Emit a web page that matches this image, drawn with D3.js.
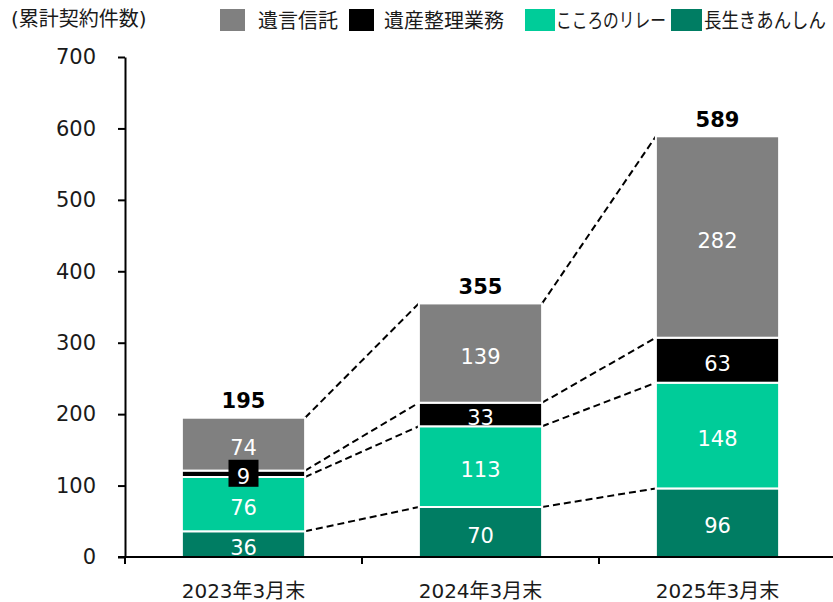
<!DOCTYPE html>
<html>
<head>
<meta charset="utf-8">
<script src="https://cdn.jsdelivr.net/npm/d3@7"></script>
<style>
  html, body { margin: 0; padding: 0; background: #fff; }
  svg { display: block; }
  text { font-family: "DejaVu Sans", "Noto Sans CJK JP", sans-serif; }
</style>
</head>
<body>
<svg id="chart" width="833" height="602"></svg>
<script>
// ---- data ----
const categories = ["2023年3月末", "2024年3月末", "2025年3月末"];
const seriesNames = ["長生きあんしん", "こころのリレー", "遺産整理業務", "遺言信託"];
const seriesColors = ["#007d63", "#00cc99", "#000000", "#808080"];
const nagaiki = [36, 70, 96];
const kokoro = [76, 113, 148];
const isan = [9, 33, 63];
const yuigon = [74, 139, 282];
const totals = [195, 355, 589];
const yTicks = [0, 100, 200, 300, 400, 500, 600, 700];
const unitLabel = "(累計契約件数)";
const legendOrder = ["遺言信託", "遺産整理業務", "こころのリレー", "長生きあんしん"];

const seriesValues = [nagaiki, kokoro, isan, yuigon];

// ---- layout ----
const svg = d3.select("#chart");
const plotLeft = 125, plotRight = 836, plotTop = 57, plotBottom = 557;

const x = d3.scaleBand().domain(categories).range([plotLeft, plotRight]).padding(0);
const y = d3.scaleLinear().domain([0, 700]).range([plotBottom, plotTop]);
const barW = x.bandwidth() * 0.52;
const barX = c => x(c) + (x.bandwidth() - barW) / 2;

// stacked data
const rows = categories.map((c, i) => {
  const o = { cat: c };
  seriesNames.forEach((s, k) => { o[s] = seriesValues[k][i]; });
  return o;
});
const stack = d3.stack().keys(seriesNames)(rows);

// connectors (dashed) between cumulative boundaries
const connG = svg.append("g");
stack.forEach(layer => {
  for (let i = 0; i < categories.length - 1; i++) {
    connG.append("line")
      .attr("x1", barX(categories[i]) + barW)
      .attr("y1", y(layer[i][1]))
      .attr("x2", barX(categories[i + 1]))
      .attr("y2", y(layer[i + 1][1]))
      .attr("stroke", "#000")
      .attr("stroke-width", 2)
      .attr("stroke-dasharray", "7,4");
  }
});

// bars
const barG = svg.append("g");
stack.forEach((layer, k) => {
  barG.selectAll(null).data(layer).enter().append("rect")
    .attr("x", d => barX(d.data.cat))
    .attr("y", d => y(d[1]))
    .attr("width", barW)
    .attr("height", d => y(d[0]) - y(d[1]))
    .attr("fill", seriesColors[k])
    .attr("stroke", "#fff")
    .attr("stroke-width", 2);
});

// segment labels
const labG = svg.append("g");
stack.forEach((layer, k) => {
  layer.forEach(d => {
    const cx = barX(d.data.cat) + barW / 2;
    const mid = (y(d[0]) + y(d[1])) / 2;
    const h = y(d[0]) - y(d[1]);
    const base = mid + 10.5;
    if (h < 20) {
      labG.append("rect")
        .attr("x", cx - 15).attr("y", base - 24.5)
        .attr("width", 30).attr("height", 27)
        .attr("fill", seriesColors[k]);
    }
    labG.append("text")
      .attr("x", cx).attr("y", base)
      .attr("text-anchor", "middle")
      .attr("font-size", 21)
      .attr("fill", "#fff")
      .text(d.data[seriesNames[k]]);
  });
});

// totals
svg.append("g").selectAll("text").data(categories).enter().append("text")
  .attr("x", c => barX(c) + barW / 2)
  .attr("y", (c, i) => y(totals[i]) - 9.5)
  .attr("text-anchor", "middle")
  .attr("font-size", 21)
  .attr("font-weight", "bold")
  .attr("fill", "#000")
  .text((c, i) => totals[i]);

// y axis
const yAxis = svg.append("g")
  .attr("transform", `translate(${plotLeft},0)`)
  .call(d3.axisLeft(y).tickValues(yTicks).tickSize(7).tickSizeOuter(0).tickPadding(22));
yAxis.select(".domain").attr("stroke", "#000").attr("stroke-width", 2);
yAxis.selectAll(".tick line").attr("stroke", "#000").attr("stroke-width", 2);
yAxis.selectAll(".tick text")
  .attr("font-size", 21)
  .attr("font-family", "DejaVu Sans, sans-serif")
  .attr("fill", "#1a1a1a");

// x axis (ticks at band boundaries)
const xG = svg.append("g");
xG.append("line")
  .attr("x1", plotLeft - 7).attr("x2", plotRight)
  .attr("y1", plotBottom).attr("y2", plotBottom)
  .attr("stroke", "#000").attr("stroke-width", 2);
xG.selectAll(".xt").data(categories).enter().append("line")
  .attr("x1", c => x(c)).attr("x2", c => x(c))
  .attr("y1", plotBottom).attr("y2", plotBottom + 7)
  .attr("stroke", "#000").attr("stroke-width", 2);
xG.selectAll(".xl").data(categories).enter().append("text")
  .attr("x", c => x(c) + x.bandwidth() / 2)
  .attr("y", 598)
  .attr("text-anchor", "middle")
  .attr("font-size", 20)
  .attr("fill", "#1a1a1a")
  .text(c => c);

// helper: horizontally squeeze a text to a target width
function fitText(g, tx, ty, str, width) {
  const t = g.append("text")
    .attr("x", 0).attr("y", 0)
    .attr("font-size", 20)
    .attr("font-family", "Noto Sans CJK JP, sans-serif")
    .attr("fill", "#1a1a1a")
    .text(str);
  const natural = t.node().getComputedTextLength();
  const sx = Math.min(1, width / natural);
  t.attr("transform", `translate(${tx},${ty}) scale(${sx},1)`);
  return t;
}

// unit label
fitText(svg, 11, 26, unitLabel, 144);

// legend
const legendLayout = [
  { sx: 220, sw: 25, tx: 258, tl: 84 },
  { sx: 349, sw: 25, tx: 384, tl: 127 },
  { sx: 525, sw: 30, tx: 556, tl: 110 },
  { sx: 671, sw: 31, tx: 704, tl: 122 }
];
const legG = svg.append("g");
legendOrder.forEach((name, i) => {
  const k = seriesNames.indexOf(name);
  const L = legendLayout[i];
  legG.append("rect")
    .attr("x", L.sx).attr("y", 9)
    .attr("width", L.sw).attr("height", 22)
    .attr("fill", seriesColors[k]);
  fitText(legG, L.tx, 28, name, L.tl);
});
</script>
</body>
</html>
